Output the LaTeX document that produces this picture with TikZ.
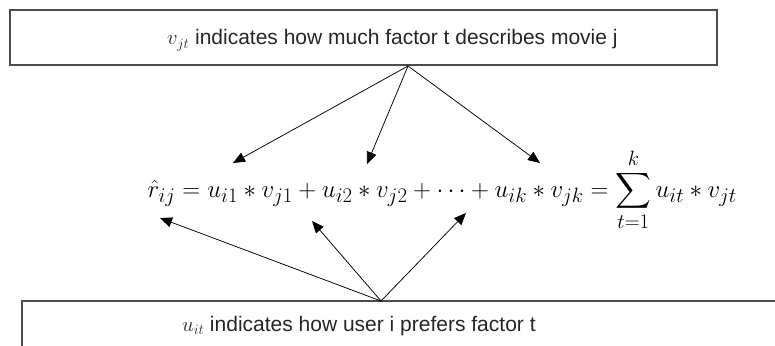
\documentclass[tikz,border=0pt]{standalone}
\usepackage{amsmath}
\usepackage{fontspec}
\setmainfont{Liberation Sans}
\usepackage{tikz}
\usetikzlibrary{arrows.meta}

\begin{document}
\begin{tikzpicture}[
  x=1pt, y=-1pt,
  box/.style={rectangle, draw=black!70, line width=1.5pt, inner sep=0pt},
  lbl/.style={font=\fontsize{21}{25}\selectfont, text=black!85, inner sep=0pt, anchor=base west},
  edge/.style={-{Triangle[length=12pt,width=10pt]}, line width=0.75pt}
]
  \useasboundingbox (0,0) rectangle (775,345);

  % the two comment boxes
  \node[box, minimum width=707pt, minimum height=55pt] (vbox) at (363.5,37.5) {};
  \node[lbl] (vtext) at (167,45) {$v_{jt}$ indicates how much factor t describes movie j};
  \node[box, minimum width=780pt, minimum height=80pt] (ubox) at (412,341) {};
  \node[lbl] (utext) at (182,331) {$u_{it}$ indicates how user i prefers factor t};

  % the formula
  \node[font=\fontsize{28}{34}\selectfont, inner sep=0pt, anchor=base east] (formula) at (737,197)
    {$\displaystyle \hat{r}_{ij} = u_{i1} * v_{j1} + u_{i2} * v_{j2} + \cdots + u_{ik} * v_{jk} = \sum_{t=1}^{k} u_{it} * v_{jt}$};

  \coordinate (vfrom) at (408,66);
  \coordinate (uto)   at (381,301);
  \coordinate (vj1) at (233,163);
  \coordinate (vj2) at (367,164);
  \coordinate (vjk) at (540,163);
  \coordinate (ui1) at (160,218);
  \coordinate (ui2) at (312,221);
  \coordinate (uik) at (466,213);

  \draw[edge] (vfrom) -- (vj1);
  \draw[edge] (vfrom) -- (vj2);
  \draw[edge] (vfrom) -- (vjk);
  \draw[edge] (uto) -- (ui1);
  \draw[edge] (uto) -- (ui2);
  \draw[edge] (uto) -- (uik);
\end{tikzpicture}
\end{document}
